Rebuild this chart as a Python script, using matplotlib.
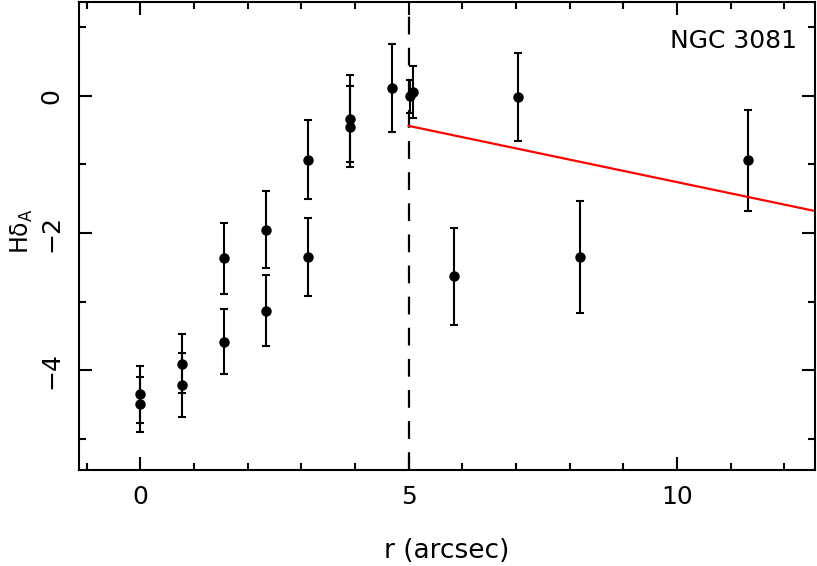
import matplotlib
matplotlib.use("Agg")
import matplotlib.pyplot as plt
import numpy as np

# ============== Data ================
r_pts = [0.0, 0.0, 0.78, 0.78, 1.56, 1.56, 2.34, 2.34, 3.12, 3.12,
         3.90, 3.90, 4.69, 5.02, 5.08, 5.85, 7.03, 8.19, 11.32]
hd_pts = [-4.35, -4.49, -3.90, -4.21, -3.58, -2.37, -1.95, -3.13, -0.93, -2.35,
          -0.335, -0.45, 0.11, -0.01, 0.05, -2.63, -0.02, -2.35, -0.94]
hd_err = [0.42, 0.40, 0.43, 0.47, 0.47, 0.52, 0.56, 0.52, 0.575, 0.57,
          0.635, 0.59, 0.64, 0.24, 0.38, 0.705, 0.64, 0.81, 0.735]

r_cut = 5.0
fit_x = [5.0, 13.0]
fit_y = [-0.44, -1.75]

# ============== PLT Configuration ================
plt.rcParams.update({
    "font.family": "DejaVu Sans",
    "font.size": 18,
    "axes.linewidth": 1.5,
    "mathtext.default": "regular",
})

fig = plt.figure(figsize=(8.17, 5.66), dpi=100)
ax = fig.add_axes([0.0967, 0.1696, 0.9009, 0.827])

ax.errorbar(r_pts, hd_pts, yerr=hd_err, fmt="o", color="black", ms=6.5,
            elinewidth=1.5, capsize=3.2, capthick=1.5)
ax.axvline(r_cut, color="black", lw=1.6, linestyle=(0, (8, 6)))
ax.plot(fit_x, fit_y, color="red", lw=1.6)

ax.text(0.975, 0.917, "NGC 3081", transform=ax.transAxes, ha="right", va="center")

ax.set_xlim(-1.14, 12.57)
ax.set_ylim(-5.45, 1.365)
ax.set_xticks([0, 5, 10])
ax.set_xticks(np.arange(-1, 13, 1), minor=True)
ax.set_yticks([-4, -2, 0])
ax.set_yticks([-5, -3, -1, 1], minor=True)
ax.set_yticklabels(["\u22124", "\u22122", "0"], rotation=90, va="center")
ax.tick_params(which="both", direction="in", top=True, right=True, width=1.5)
ax.tick_params(which="major", length=9.5)
ax.tick_params(which="minor", length=5)
ax.tick_params(axis="x", pad=11)
ax.tick_params(axis="y", pad=11)

ax.set_xlabel("r (arcsec)", fontsize=19)
ax.xaxis.set_label_coords(0.5, -0.145)
ax.set_ylabel(r"H$\delta_A$", fontsize=17)
ax.yaxis.set_label_coords(-0.06, 0.51)

fig.savefig("out.png", dpi=100)
